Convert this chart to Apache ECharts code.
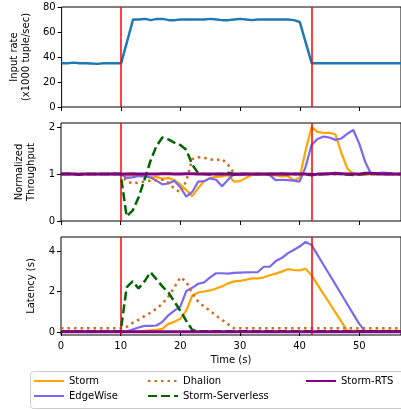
<!DOCTYPE html>
<html>
<head>
<meta charset="utf-8">
<script src="https://cdn.jsdelivr.net/npm/echarts@6/dist/echarts.min.js"></script>
<style>
html, body { margin: 0; padding: 0; background: #fff; }
#chart { width: 401px; height: 410px; }
</style>
</head>
<body>
<div id="chart"></div>
<script>
var seconds = [0, 1, 2, 3, 4, 5, 6, 7, 8, 9, 10, 11, 12, 13, 14, 15, 16, 17, 18, 19,
	20, 21, 22, 23, 24, 25, 26, 27, 28, 29, 30, 31, 32, 33, 34, 35, 36, 37, 38, 39,
	40, 41, 42, 43, 44, 45, 46, 47, 48, 49, 50, 51, 52, 53, 54, 55, 56, 57];
var changePoints = [10, 42];
var timeTicks = [0, 10, 20, 30, 40, 50];
var rateTicks = [0, 20, 40, 60, 80];
var tputTicks = [0, 1, 2];
var latTicks = [0, 2, 4];

// input rate (x1000 tuple/sec)
var inputRate = [35, 35, 35.5, 35, 35, 34.8, 34.5, 35, 35, 35, 35,
	52.5, 70, 70, 70.5, 69.5, 70.5, 70.5, 69.5, 69.5, 70,
	70, 70, 70, 70, 70.5, 70, 69.5, 69.5, 70, 70.5,
	70, 69.5, 70, 70, 70, 70, 70, 70, 69.5, 68,
	51.5, 35, 35, 35, 35, 35, 35, 35, 35, 35,
	35, 35, 35, 35, 35, 35, 35];

// normalized throughput
var stormTput = [1, 1, 1, 1, 1, 1, 1, 1, 1, 1, 1,
	0.97, 0.97, 0.96, 0.95, 0.93, 0.94, 0.9, 0.92, 0.87, 0.78,
	0.66, 0.53, 0.7, 0.85, 0.92, 0.94, 0.95, 0.98, 0.84, 0.85,
	0.92, 0.98, 0.99, 1.0, 0.98, 0.97, 0.95, 0.96, 0.87, 0.92,
	1.5, 2.0, 1.9, 1.88, 1.88, 1.85, 1.45, 1.12, 1.0, 1.0,
	0.99, 1.0, 1.0, 1.01, 1.0, 1.0, 1.0];
var edgeTput = [1, 1, 1, 1, 1, 1, 1, 1, 1, 1, 1,
	0.92, 0.93, 0.96, 0.95, 0.93, 0.86, 0.78, 0.8, 0.86, 0.72,
	0.52, 0.62, 0.84, 0.85, 0.91, 0.88, 0.74, 0.88, 1.0, 0.98,
	1.0, 1.0, 1.0, 1.0, 0.98, 0.87, 0.88, 0.87, 0.86, 0.84,
	1.15, 1.62, 1.75, 1.8, 1.78, 1.73, 1.76, 1.86, 1.94, 1.65,
	1.26, 1.0, 1.02, 1.03, 1.02, 1.0, 1.0];
var dhalionTput = [1, 1, 1.01, 1, 1, 1, 1, 1, 1, 1, 1,
	0.85, 0.8, 0.82, 0.84, 0.86, 0.87, 0.88, 0.82, 0.69, 0.61,
	0.85, 1.32, 1.36, 1.35, 1.31, 1.3, 1.32, 1.2, 1.02, 1.0,
	1, 1, 1, 1, 1, 1, 1, 1, 1, 1,
	1.01, 0.99, 1, 1, 1, 1, 1, 1, 1, 1,
	1, 1, 1, 1, 1, 0.99, 0.99];
var serverlessTput = [1, 1, 1, 1, 1, 1, 1, 1, 1, 1, 1,
	0.1, 0.22, 0.5, 0.88, 1.28, 1.6, 1.78, 1.74, 1.67, 1.62,
	1.52, 1.2, 1.02, 1.0, 0.99, 1.0, 1.0, 1.03, 1.01, 1.0,
	1, 1, 1, 1, 1, 1, 1, 1, 1, 1,
	1, 1, 0.99, 1, 1, 1, 1, 0.99, 0.98, 0.99,
	1, 1, 1, 1, 1, 1, 1];
var rtsTput = [1, 1.01, 1, 0.99, 1, 1, 1, 1, 1, 1.01, 1,
	1, 1.01, 1, 1, 1, 1, 1.01, 1.01, 1, 1,
	1.01, 1.01, 1, 1, 1, 1, 1, 1, 0.99, 1,
	1, 1, 1, 1, 1, 1, 1.01, 1, 1, 1,
	1, 0.98, 1, 1, 1.01, 1.02, 1.01, 1, 1, 1,
	1.02, 1.02, 1.01, 1, 1, 1, 1];

// latency (s)
var stormLat = [0.02, 0.02, 0.02, 0.02, 0.02, 0.02, 0.02, 0.02, 0.02, 0.02, 0.02,
	0.02, 0.02, 0.02, 0.05, 0.08, 0.1, 0.15, 0.4, 0.5, 0.65,
	1.05, 1.8, 1.95, 2.0, 2.05, 2.15, 2.25, 2.4, 2.5, 2.52,
	2.58, 2.65, 2.65, 2.7, 2.8, 2.88, 2.98, 3.1, 3.06, 3.04,
	3.12, 2.8, 2.34, 1.88, 1.43, 0.97, 0.51, 0.05, 0.05, 0.05,
	0.05, 0.05, 0.05, 0.05, 0.05, 0.05, 0.05];
var edgeLat = [0.02, 0.02, 0.02, 0.02, 0.02, 0.02, 0.02, 0.02, 0.02, 0.02, 0.02,
	0.02, 0.12, 0.22, 0.3, 0.3, 0.32, 0.5, 0.82, 1.05, 1.25,
	2.02, 2.18, 2.38, 2.45, 2.7, 2.9, 2.9, 2.88, 2.92, 2.93,
	2.94, 2.95, 2.96, 3.22, 3.22, 3.5, 3.65, 3.88, 4.05, 4.22,
	4.45, 4.3, 3.81, 3.32, 2.84, 2.35, 1.86, 1.37, 0.88, 0.4,
	0.03, 0.03, 0.03, 0.03, 0.03, 0.03, 0.03];
var dhalionLat = [0.18, 0.18, 0.18, 0.18, 0.18, 0.18, 0.18, 0.18, 0.18, 0.18, 0.18,
	0.25, 0.45, 0.6, 0.78, 0.95, 1.15, 1.4, 1.75, 2.2, 2.7,
	2.48, 1.91, 1.5, 1.25, 1.05, 0.8, 0.6, 0.38, 0.18, 0.18,
	0.18, 0.18, 0.18, 0.18, 0.18, 0.18, 0.18, 0.18, 0.18, 0.18,
	0.18, 0.18, 0.18, 0.18, 0.18, 0.18, 0.18, 0.18, 0.18, 0.18,
	0.18, 0.18, 0.18, 0.18, 0.18, 0.18, 0.18];
var serverlessLat = [0.02, 0.02, 0.02, 0.02, 0.02, 0.02, 0.02, 0.02, 0.02, 0.02, 0.02,
	2.2, 2.5, 2.15, 2.5, 2.95, 2.6, 2.25, 1.95, 1.5, 1.05,
	0.55, 0.1, 0.03, 0.03, 0.03, 0.03, 0.03, 0.03, 0.03, 0.03,
	0.03, 0.03, 0.03, 0.03, 0.03, 0.03, 0.03, 0.03, 0.03, 0.03,
	0.03, 0.03, 0.03, 0.03, 0.03, 0.03, 0.03, 0.03, 0.03, 0.03,
	0.03, 0.03, 0.03, 0.03, 0.03, 0.03, 0.03];
var rtsLat = [0.01, 0.01, 0.01, 0.01, 0.01, 0.01, 0.01, 0.01, 0.01, 0.01, 0.01,
	0.01, 0.01, 0.01, 0.01, 0.01, 0.01, 0.01, 0.01, 0.01, 0.01,
	0.01, 0.01, 0.01, 0.01, 0.01, 0.01, 0.01, 0.01, 0.01, 0.01,
	0.01, 0.01, 0.01, 0.01, 0.01, 0.01, 0.01, 0.01, 0.01, 0.01,
	0.01, 0.01, 0.01, 0.01, 0.01, 0.01, 0.01, 0.01, 0.01, 0.01,
	0.01, 0.01, 0.01, 0.01, 0.01, 0.01, 0.01];

var font = 'DejaVu Sans';
var systems = [
	{ name: 'Storm', color: '#ffa500', width: 2.2, type: 'solid', tput: stormTput, lat: stormLat },
	{ name: 'EdgeWise', color: '#7b68ee', width: 2.2, type: 'solid', tput: edgeTput, lat: edgeLat },
	{ name: 'Dhalion', color: '#d2691e', width: 2.5, type: [2.5, 4], tput: dhalionTput, lat: dhalionLat },
	{ name: 'Storm-Serverless', color: '#006400', width: 2.5, type: [9, 4], tput: serverlessTput, lat: serverlessLat },
	{ name: 'Storm-RTS', color: '#800080', width: 3, type: 'solid', tput: rtsTput, lat: rtsLat }
];

function pairs(arr) {
	return seconds.map(function(t, i) { return [t, arr[i]]; });
}

function xAxisFor(idx, withLabels) {
	return {
		type: 'value', gridIndex: idx, min: 0, max: 57,
		splitLine: { show: false },
		axisLine: { show: false },
		axisTick: { show: true, length: 4, lineStyle: { color: '#000' }, customValues: timeTicks },
		axisLabel: { show: withLabels, customValues: timeTicks, margin: 6, fontFamily: font, fontSize: 10, color: '#000' },
		name: withLabels ? 'Time (s)' : '',
		nameLocation: 'middle', nameGap: 20,
		nameTextStyle: { fontFamily: font, fontSize: 10, color: '#000' }
	};
}

function yAxisFor(idx, min, max, ticks, name, gap) {
	return {
		type: 'value', gridIndex: idx, min: min, max: max,
		splitLine: { show: false },
		axisLine: { show: false },
		axisTick: { show: true, length: 4, lineStyle: { color: '#000' }, customValues: ticks },
		axisLabel: { customValues: ticks, margin: 6, fontFamily: font, fontSize: 10, color: '#000' },
		name: name, nameLocation: 'middle', nameRotate: 90, nameGap: gap,
		nameTextStyle: { fontFamily: font, fontSize: 10, lineHeight: 12, color: '#000' }
	};
}

var series = [{
	name: 'Input rate', type: 'line', xAxisIndex: 0, yAxisIndex: 0,
	data: pairs(inputRate), showSymbol: false, symbol: 'none',
	color: '#1f77b4',
	lineStyle: { color: '#1f77b4', width: 2.5 }
}];
systems.forEach(function(s, k) {
	[['tput', 1], ['lat', 2]].forEach(function(p) {
		series.push({
			name: s.name, type: 'line', xAxisIndex: p[1], yAxisIndex: p[1],
			data: pairs(s[p[0]]), showSymbol: false, symbol: 'none',
			color: s.color,
			lineStyle: { color: s.color, width: s.width, type: s.type },
			z: 2 + k
		});
	});
});
// red lines where the input rate changes, one holder series per panel
[0, 1, 2].forEach(function(g) {
	series.push({
		name: 'change' + g, type: 'line', xAxisIndex: g, yAxisIndex: g,
		data: [], color: '#ff0000', z: 10,
		markLine: {
			silent: true,
			symbol: ['none', 'none'],
			label: { show: false },
			lineStyle: { color: '#ff0000', width: 1.5, type: 'solid', opacity: 1 },
			emphasis: { disabled: true },
			data: changePoints.map(function(v) { return { xAxis: v }; })
		}
	});
});

function legendFor(names, left) {
	return {
		data: names, orient: 'vertical', left: left, top: 376, padding: 0,
		itemWidth: 30, itemHeight: 12, itemGap: 5,
		itemStyle: { opacity: 0 },
		selectedMode: false,
		textStyle: { fontFamily: font, fontSize: 10, color: '#000' }
	};
}

var myChart = echarts.init(document.getElementById('chart'));
var option = {
	animation: false,
	backgroundColor: '#fff',
	grid: [
		{ left: 61, right: -2, top: 7, height: 100, show: true, borderColor: '#000', borderWidth: 1 },
		{ left: 61, right: -2, top: 123, height: 98, show: true, borderColor: '#000', borderWidth: 1 },
		{ left: 61, right: -2, top: 237, height: 98, show: true, borderColor: '#000', borderWidth: 1 }
	],
	xAxis: [xAxisFor(0, false), xAxisFor(1, false), xAxisFor(2, true)],
	yAxis: [
		yAxisFor(0, 0, 80, rateTicks, 'Input rate\n(x1000 tuple/sec)', 25),
		yAxisFor(1, 0, 2.09, tputTicks, 'Normalized\nThroughput', 19),
		yAxisFor(2, -0.15, 4.69, latTicks, 'Latency (s)', 18)
	],
	legend: [
		legendFor(['Storm', 'EdgeWise'], 33),
		legendFor(['Dhalion', 'Storm-Serverless'], 147),
		legendFor(['Storm-RTS'], 305)
	],
	graphic: [{
		type: 'rect', z: -1, silent: true,
		shape: { x: 30.5, y: 371.5, width: 380, height: 37, r: 3 },
		style: { fill: '#fff', stroke: '#cccccc', lineWidth: 1 }
	}],
	series: series
};
myChart.setOption(option);
window.addEventListener('resize', function() {
	myChart.resize();
});
</script>
</body>
</html>
